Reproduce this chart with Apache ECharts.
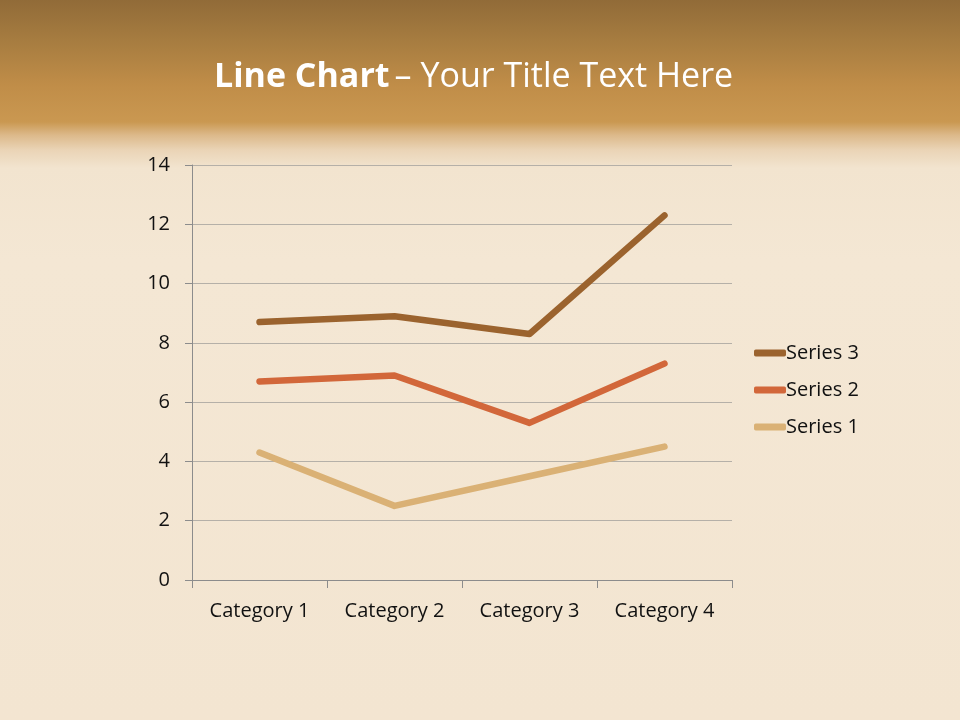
<!DOCTYPE html>
<html>
<head>
<meta charset="utf-8">
<script src="https://cdn.jsdelivr.net/npm/echarts@6/dist/echarts.min.js"></script>
<style>
html,body{margin:0;padding:0;}
#c{width:960px;height:720px;
background:
 linear-gradient(to bottom,#916b38 0px,#a67c40 40px,#c08d48 85px,#ca9851 122px,#dcb98a 135px,#ead4b6 150px,#f2e4cf 168px,#f4e7d4 260px,#f3e5d1 720px);}
</style>
</head>
<body>
<div id="c"></div>
<script>
const categories = ['Category 1','Category 2','Category 3','Category 4'];
const series1 = [4.3, 2.5, 3.5, 4.5];
const series2 = [2.4, 4.4, 1.8, 2.8];
const series3 = [2, 2, 3, 5];
const yTicks = {min:0, max:14, interval:2};

const chart = echarts.init(document.getElementById('c'));
const font = 'Open Sans, Noto Sans, sans-serif';
const lineCommon = {type:'line', stack:'total', showSymbol:false, symbol:'none', smooth:false};
chart.setOption({
  animation:false,
  title:{
    text:'{b|Line Chart} {n|– Your Title Text Here}',
    left:209, top:55,
    textStyle:{rich:{
      b:{fontFamily:font,fontSize:34,fontWeight:'bold',color:'#ffffff'},
      n:{fontFamily:font,fontSize:34,fontWeight:'normal',color:'#ffffff'}
    }}
  },
  grid:{left:192,right:228,top:165,bottom:140,containLabel:false},
  legend:{
    orient:'vertical', left:749, top:334, itemGap:9,
    itemWidth:32, itemHeight:7,
    data:['Series 3','Series 2','Series 1'],
    textStyle:{fontFamily:font,fontSize:20,color:'#111',padding:[0,0,0,-5],lineHeight:28},
    icon:'roundRect'
  },
  xAxis:{
    type:'category', data:categories, boundaryGap:true,
    axisLine:{lineStyle:{color:'#8c8c8c',width:1}},
    axisTick:{show:true,length:8,lineStyle:{color:'#8c8c8c'}},
    axisLabel:{fontFamily:font,fontSize:20,color:'#111',margin:21}
  },
  yAxis:{
    type:'value', min:yTicks.min, max:yTicks.max, interval:yTicks.interval,
    axisLine:{show:true,lineStyle:{color:'#8c8c8c',width:1}},
    axisTick:{show:true,length:7,lineStyle:{color:'#8c8c8c'}},
    axisLabel:{fontFamily:font,fontSize:20,color:'#111',margin:22},
    splitLine:{lineStyle:{color:'#b5b0a8',width:1}}
  },
  series:[
    Object.assign({name:'Series 1',data:series1,itemStyle:{color:'#dab175'},lineStyle:{width:6.5,color:'#dab175',cap:'round',join:'round'}},lineCommon),
    Object.assign({name:'Series 2',data:series2,itemStyle:{color:'#d2673a'},lineStyle:{width:6.5,color:'#d2673a',cap:'round',join:'round'}},lineCommon),
    Object.assign({name:'Series 3',data:series3,itemStyle:{color:'#9b632e'},lineStyle:{width:6.5,color:'#9b632e',cap:'round',join:'round'}},lineCommon)
  ]
});
</script>
</body>
</html>
